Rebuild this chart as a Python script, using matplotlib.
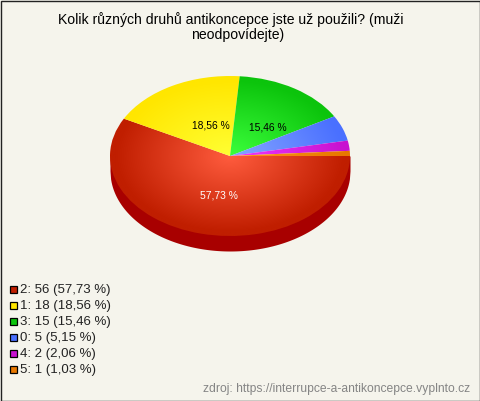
import numpy as np
import matplotlib
matplotlib.use("Agg")
import matplotlib.pyplot as plt
from matplotlib.colors import LinearSegmentedColormap
from matplotlib.patches import Rectangle

plt.rcParams['font.family'] = ['Liberation Sans', 'DejaVu Sans']

title_lines = ["Kolik různých druhů antikoncepce jste už použili? (muži", "neodpovídejte)"]
categories = ["2", "1", "3", "0", "4", "5"]
counts = [56, 18, 15, 5, 2, 1]
percent_labels = ["57,73 %", "18,56 %", "15,46 %", "5,15 %", "2,06 %", "1,03 %"]
inner_colors = ["#ff5c3e", "#ffff33", "#3cff3c", "#86a6ff", "#f038ff", "#ff9a1a"]
outer_colors = ["#c01e00", "#ffe600", "#0cc40c", "#4a70ff", "#c812d0", "#e87800"]
legend_colors = ["#c01e00", "#ffe600", "#0cc40c", "#4a70ff", "#c812d0", "#e87800"]
side_color = "#a80000"
bg = "#f5f4ec"
source = "zdroj: https://interrupce-a-antikoncepce.vyplnto.cz"

W, H = 480, 401
fig = plt.figure(figsize=(W/100, H/100), dpi=100, facecolor=bg)
bgax = fig.add_axes([0, 0, 1, 1])
bgax.set_xlim(0, W); bgax.set_ylim(H, 0); bgax.axis("off")

# pie box in pixels
cx, cy, rx, ry, depth = 230, 156, 120, 80, 15
ax = fig.add_axes([(cx-rx)/W, 1-(cy+ry)/H, 2*rx/W, 2*ry/H])
wedges, _ = ax.pie(counts, startangle=0, counterclock=False, radius=1, frame=False)
ax.set_aspect("auto")
ax.set_xlim(-1, 1); ax.set_ylim(-1, 1)

# side of the pie
xs = np.linspace(-1, 1, 400)
low = -np.sqrt(1-xs**2)
ax.fill_between(xs, low-depth/ry, np.zeros_like(xs), color=side_color,
                lw=0, clip_on=False, zorder=0)

# radial gradient fill of slices
g = np.linspace(-1, 1, 500)
X, Y = np.meshgrid(g, g)
R = np.clip(np.hypot(X, Y), 0, 1)
for w, c0, c1 in zip(wedges, inner_colors, outer_colors):
    w.set_facecolor("none"); w.set_edgecolor("none")
    cmap = LinearSegmentedColormap.from_list("g", [c0, c1])
    im = ax.imshow(R, extent=(-1, 1, -1, 1), origin="lower", cmap=cmap, vmin=0, vmax=0.95,
                   aspect="auto", zorder=2, interpolation="bilinear")
    im.set_clip_path(w)
ax.set_xlim(-1, 1); ax.set_ylim(-1, 1)

# percent labels on large slices
fs_label = 7.4
lab_pos = {0: (219, 196, "white"), 1: (211, 125, "black"), 2: (268, 127, "black")}
for i, (px, py, col) in lab_pos.items():
    bgax.text(px, py, percent_labels[i], color=col, fontsize=fs_label, ha="center", va="center", zorder=10)
bgax.set_zorder(5); bgax.patch.set_alpha(0)

# title
bgax.text(230.5, 20, title_lines[0], ha="center", va="center", fontsize=10.1, color="#000000")
bgax.text(238, 35, title_lines[1], ha="center", va="center", fontsize=10.1, color="#000000")

# legend
for i, (cat, n, p, col) in enumerate(zip(categories, counts, percent_labels, legend_colors)):
    y = 289 + i*16
    bgax.add_patch(Rectangle((9.5, y-3.5), 7, 7, facecolor=col, edgecolor="black", lw=0.9))
    bgax.text(20, y+1, f"{cat}: {n} ({p})", ha="left", va="center", fontsize=9.5, color="#222222")

bgax.text(470, 389, source, ha="right", va="center", fontsize=8.73, color="#858585")

# border
bgax.add_patch(Rectangle((0.5, 0.5), W-1, H-1, facecolor="none", edgecolor="#222222", lw=1, clip_on=False))

fig.savefig("out.png", dpi=100, facecolor=bg)
